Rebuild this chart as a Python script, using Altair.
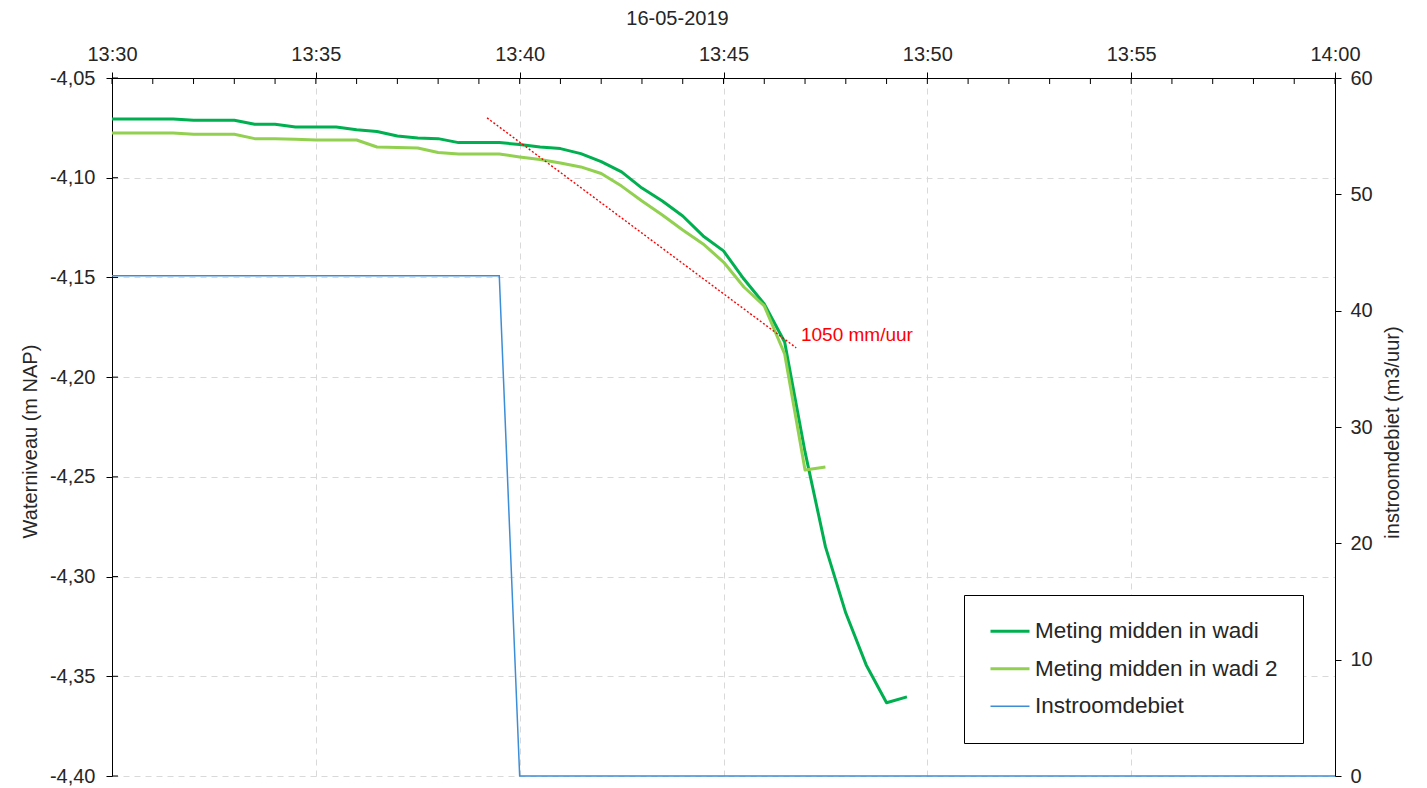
import altair as alt
import pandas as pd

DAY = "2019-05-16T"

# --- data -------------------------------------------------------------------
times = ["13:30:00", "13:30:30", "13:31:00", "13:31:30", "13:32:00", "13:32:30",
         "13:33:00", "13:33:30", "13:34:00", "13:34:30", "13:35:00", "13:35:30",
         "13:36:00", "13:36:30", "13:37:00", "13:37:30", "13:38:00", "13:38:30",
         "13:39:00", "13:39:30", "13:40:00", "13:40:30", "13:41:00", "13:41:30",
         "13:42:00", "13:42:30", "13:43:00", "13:43:30", "13:44:00", "13:44:30",
         "13:45:00", "13:45:30", "13:46:00", "13:46:30", "13:47:00", "13:47:30",
         "13:48:00", "13:48:30", "13:49:00", "13:49:30"]

wadi1 = [-4.0705, -4.0705, -4.0705, -4.0705, -4.0712, -4.0712, -4.0712, -4.0732,
         -4.0732, -4.0746, -4.0746, -4.0746, -4.0759, -4.0768, -4.0791, -4.0801,
         -4.0804, -4.0824, -4.0824, -4.0824, -4.0833, -4.0846, -4.0854, -4.0879,
         -4.0919, -4.0971, -4.1052, -4.1117, -4.1192, -4.1292, -4.1367, -4.1508,
         -4.1633, -4.1824, -4.2375, -4.2850, -4.3183, -4.3443, -4.3633, -4.3603]

wadi2 = [-4.0776, -4.0776, -4.0776, -4.0776, -4.0782, -4.0782, -4.0782, -4.0804,
         -4.0804, -4.0807, -4.0811, -4.0811, -4.0811, -4.0846, -4.0848, -4.0851,
         -4.0874, -4.0881, -4.0881, -4.0881, -4.0896, -4.0909, -4.0926, -4.0946,
         -4.0979, -4.1042, -4.1117, -4.1187, -4.1262, -4.1332, -4.1423, -4.1548,
         -4.1643, -4.1884, -4.2466, -4.2451]

flow_times = ["13:30:00", "13:39:30", "13:40:00", "14:00:00"]
flow_values = [43, 43, 0, 0]

trend_times = ["13:39:12", "13:46:47"]
trend_values = [-4.0700, -4.1853]

label_time = ["13:46:54"]
label_value = [-4.1789]
label_text = ["1050 mm/uur"]

minute_ticks = ["13:%02d:00" % m for m in range(30, 60)] + ["14:00:00"]
level_ticks = [-4.05, -4.10, -4.15, -4.20, -4.25, -4.30, -4.35, -4.40]
flow_ticks = [0, 10, 20, 30, 40, 50, 60]

series = ["Meting midden in wadi", "Meting midden in wadi 2", "Instroomdebiet"]
colors = ["#00B050", "#92D050", "#3C8DD8"]
widths = [3, 3, 1.5]

# --- tables -------------------------------------------------------------------
lv = pd.DataFrame(
    [{"t": DAY + t, "v": v, "s": series[0]} for t, v in zip(times, wadi1)]
    + [{"t": DAY + t, "v": v, "s": series[1]} for t, v in zip(times, wadi2)]
)
fl = pd.DataFrame({"t": [DAY + t for t in flow_times], "q": flow_values, "s": series[2]})
tr = pd.DataFrame({"t": [DAY + t for t in trend_times], "v": trend_values})
lb = pd.DataFrame({"t": [DAY + t for t in label_time], "v": label_value, "txt": label_text})
mt = pd.DataFrame({"t": [DAY + t for t in minute_ticks]})
yt = pd.DataFrame({"v": level_ticks})

FONT = "Liberation Sans"
TXT = "#262626"

x_enc = alt.X(
    "t:T",
    scale=alt.Scale(domain=[DAY + "13:30:00", DAY + "14:00:00"]),
    axis=alt.Axis(
        orient="top", format="%H:%M",
        values=[DAY + "13:%02d:00" % m for m in (30, 35, 40, 45, 50, 55)] + [DAY + "14:00:00"],
        title="16-05-2019", titleX=565, titleY=-60, titleAngle=0,
        titleBaseline="middle", titleAlign="center",
        tickSize=6, labelPadding=8, labelFlush=False,
        grid=True, gridDash=[6, 5], gridColor="#d9d9d9",
    ),
)

level_scale = alt.Scale(domain=[-4.40, -4.05], nice=False, zero=False)
color_enc = alt.Color("s:N", scale=alt.Scale(domain=series, range=colors),
                      legend=alt.Legend(title=None))
width_enc = alt.StrokeWidth("s:N", scale=alt.Scale(type="ordinal", domain=series, range=widths),
                            legend=alt.Legend(title=None))

y_left = alt.Y(
    "v:Q", scale=level_scale,
    axis=alt.Axis(
        orient="left", values=level_ticks,
        labelExpr="replace(replace(format(datum.value, '.2f'), '.', ','), '\u2212', '-')",
        title="Waterniveau (m NAP)", titleAngle=270, titleX=-82, titleY=363,
        titleBaseline="middle", titleAlign="center",
        tickSize=6, labelPadding=11,
        grid=True, gridDash=[6, 5], gridColor="#d9d9d9",
    ),
)

levels = alt.Chart(lv).mark_line(strokeJoin="round").encode(
    x=x_enc, y=y_left, color=color_enc, strokeWidth=width_enc,
    detail="s:N",
)

trend = alt.Chart(tr).mark_line(color="#FF0000", strokeDash=[2, 2], strokeWidth=1.4).encode(
    x=x_enc, y=alt.Y("v:Q", scale=level_scale)
)

label = alt.Chart(lb).mark_text(align="left", baseline="middle", color="#FF0000",
                                font=FONT, fontSize=19).encode(
    x=x_enc, y=alt.Y("v:Q", scale=level_scale), text="txt:N"
)

minor = alt.Chart(mt).mark_rule(color="black", strokeWidth=1).encode(
    x=x_enc, y=alt.value(0), y2=alt.value(6)
)

inner_y = alt.Chart(yt).mark_rule(color="black", strokeWidth=1).encode(
    y=alt.Y("v:Q", scale=level_scale), x=alt.value(0), x2=alt.value(6)
)

left_group = alt.layer(levels, trend, label, minor, inner_y)

flow = alt.Chart(fl).mark_line(strokeJoin="miter").encode(
    x=x_enc,
    y=alt.Y("q:Q", scale=alt.Scale(domain=[0, 60], nice=False),
            axis=alt.Axis(orient="right", values=flow_ticks, grid=False,
                          title="instroomdebiet (m3/uur)", titleAngle=270,
                          titleX=57, titleY=354, titleBaseline="middle",
                          titleAlign="center", tickSize=6, labelPadding=9)),
    color=color_enc, strokeWidth=width_enc,
)

chart = (
    alt.layer(left_group, flow)
    .resolve_scale(y="independent")
    .properties(
        width=1223, height=698,
        padding={"left": 104, "top": 70, "right": 84, "bottom": 10},
        autosize=alt.AutoSizeParams(type="none"),
    )
    .configure_view(stroke=None)
    .configure_axis(
        labelFont=FONT, labelFontSize=20, labelColor=TXT,
        titleFont=FONT, titleFontSize=20, titleFontWeight="normal", titleColor=TXT,
        domainColor="black", domainWidth=1, tickColor="black", tickWidth=1,
    )
    .configure_legend(
        orient="none", legendX=852, legendY=517,
        strokeColor="black", fillColor="white", padding=25,
        symbolType="stroke", symbolSize=1521, clipHeight=22.5,
        labelFont=FONT, labelFontSize=22.5,
        labelColor=TXT, rowPadding=14.5, labelOffset=4, labelLimit=400,
        symbolOffset=0,
    )
)

chart.save("out.html", embed_options={"renderer": "svg", "actions": False})
